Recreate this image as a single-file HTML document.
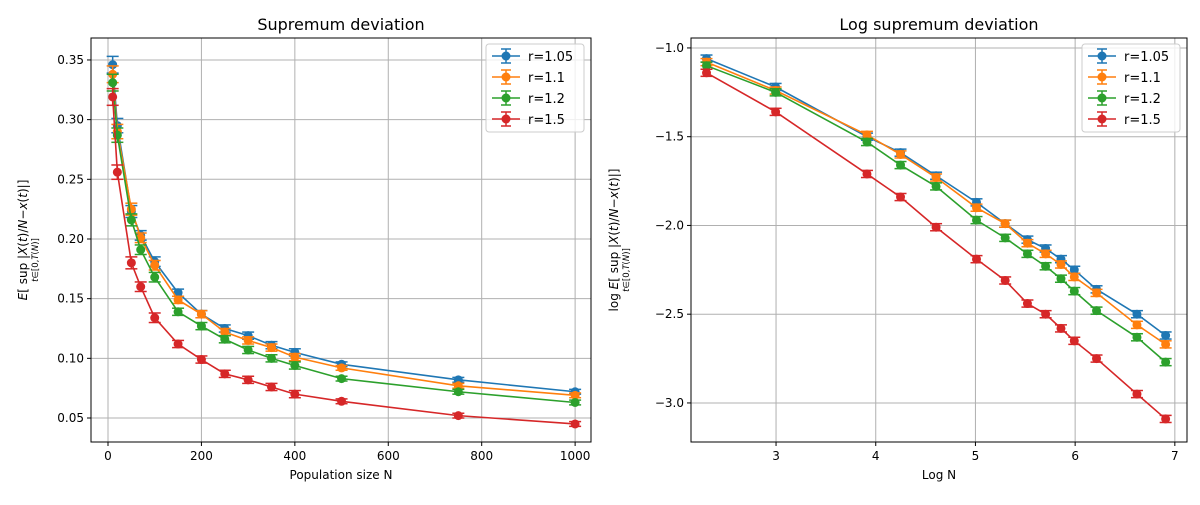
<!DOCTYPE html>
<html><head><meta charset="utf-8"><style>
body{margin:0;background:#fff;font-family:"Liberation Sans","DejaVu Sans",sans-serif;}
svg text{font-family:"DejaVu Sans","Liberation Sans",sans-serif;}
</style></head><body>
<svg id="fig" width="1200" height="500" viewBox="0 0 1200 500" xmlns="http://www.w3.org/2000/svg"></svg>
<script>
const popN = [10,20,50,70,100,150,200,250,300,350,400,500,750,1000];
const seriesLabels = ["r=1.05","r=1.1","r=1.2","r=1.5"];
const colors = ["#1f77b4","#ff7f0e","#2ca02c","#d62728"];
const supR105 = [.346,.295,.223,.203,.181,.155,.137,.125,.119,.111,.105,.095,.082,.072];
const supR11  = [.338,.290,.225,.201,.178,.149,.137,.122,.115,.109,.101,.092,.077,.069];
const supR12  = [.331,.287,.216,.191,.168,.139,.127,.116,.107,.100,.094,.083,.072,.063];
const supR15  = [.319,.256,.180,.160,.134,.112,.099,.087,.082,.076,.070,.064,.052,.045];
const supErr  = [.007,.006,.005,.004,.004,.003,.003,.003,.003,.003,.003,.002,.002,.002];
const logR105 = [-1.06,-1.22,-1.50,-1.59,-1.72,-1.87,-1.99,-2.08,-2.13,-2.19,-2.25,-2.36,-2.50,-2.62];
const logR11  = [-1.08,-1.24,-1.49,-1.60,-1.73,-1.90,-1.99,-2.10,-2.16,-2.22,-2.29,-2.38,-2.56,-2.67];
const logR12  = [-1.10,-1.25,-1.53,-1.66,-1.78,-1.97,-2.07,-2.16,-2.23,-2.30,-2.37,-2.48,-2.63,-2.77];
const logR15  = [-1.14,-1.36,-1.71,-1.84,-2.01,-2.19,-2.31,-2.44,-2.50,-2.58,-2.65,-2.75,-2.95,-3.09];
const logErr  = [.02,.02,.02,.02,.02,.02,.02,.02,.02,.02,.02,.02,.02,.02];
const leftXTicks = [0,200,400,600,800,1000];
const leftYTicks = [0.05,0.10,0.15,0.20,0.25,0.30,0.35];
const rightXTicks = [3,4,5,6,7];
const rightYTicks = [-1.0,-1.5,-2.0,-2.5,-3.0];

const NS="http://www.w3.org/2000/svg";
const svg=document.getElementById('fig');
function mk(tag,attrs,parent){const e=document.createElementNS(NS,tag);for(const k in attrs)e.setAttribute(k,attrs[k]);(parent||svg).appendChild(e);return e;}

function panel(cfg){
  const g=mk('g',{});
  
  
  const L=cfg.box[0],T=cfg.box[1],R=cfg.box[2],B=cfg.box[3];
  const sx=v=>L+(v-cfg.xd[0])/(cfg.xd[1]-cfg.xd[0])*(R-L);
  const sy=v=>B-(v-cfg.yd[0])/(cfg.yd[1]-cfg.yd[0])*(B-T);
  cfg.xt.forEach(t=>{const x=sx(t);
    const gl=mk('line',{x1:x,x2:x,y1:T,y2:B,stroke:'#b0b0b0','stroke-width':1},g);
    
    
    mk('line',{x1:x,x2:x,y1:B,y2:B+4,stroke:'#000'},g);
    const tx=mk('text',{x:x,y:B+18,'text-anchor':'middle','font-size':12},g);tx.textContent=cfg.xf(t);
    
    });
  cfg.yt.forEach(t=>{const y=sy(t);
    const gl=mk('line',{x1:L,x2:R,y1:y,y2:y,stroke:'#b0b0b0','stroke-width':1},g);
    
    
    mk('line',{x1:L-4,x2:L,y1:y,y2:y,stroke:'#000'},g);
    const tx=mk('text',{x:L-7,y:y+4,'text-anchor':'end','font-size':12},g);tx.textContent=cfg.yf(t);
    
    });
  cfg.series.forEach((ys,si)=>{
    const c=colors[si];
    const sg=mk('g',{},g);
    
    
    const pts=ys.map((v,i)=>sx(cfg.xs[i])+','+sy(v)).join(' ');
    mk('polyline',{points:pts,fill:'none',stroke:c,'stroke-width':1.6},sg);
    ys.forEach((v,i)=>{const x=sx(cfg.xs[i]);const e=cfg.err[i];
      const y1=sy(v+e),y2=sy(v-e);
      mk('line',{x1:x,x2:x,y1:y1,y2:y2,stroke:c,'stroke-width':1.5},sg);
      mk('line',{x1:x-6,x2:x+6,y1:y1,y2:y1,stroke:c,'stroke-width':1.5},sg);
      mk('line',{x1:x-6,x2:x+6,y1:y2,y2:y2,stroke:c,'stroke-width':1.5},sg);
      const p=mk('circle',{cx:x,cy:sy(v),r:4.5,fill:c},sg);
      
      });
  });
  mk('rect',{x:L,y:T,width:R-L,height:B-T,fill:'none',stroke:'#000','stroke-width':1},g);
  const ti=mk('text',{x:(L+R)/2,y:T-8,'text-anchor':'middle','font-size':16},g);ti.textContent=cfg.title;
  
  
  const xl=mk('text',{x:(L+R)/2,y:B+37,'text-anchor':'middle','font-size':12},g);xl.textContent=cfg.xlabel;
  
  
  const lx=R-cfg.legW-7, ly=T+6;
  const lg=mk('g',{},g);
  
  
  mk('rect',{x:lx,y:ly,width:cfg.legW,height:88,rx:3,fill:'#fff','fill-opacity':0.8,stroke:'#ccc'},lg);
  seriesLabels.forEach((s,i)=>{const yy=ly+12+i*21;const c=colors[i];
    const le=mk('g',{},lg);
    
    
    mk('line',{x1:lx+6,x2:lx+34,y1:yy,y2:yy,stroke:c,'stroke-width':1.6},le);
    mk('line',{x1:lx+20,x2:lx+20,y1:yy-7,y2:yy+7,stroke:c,'stroke-width':1.5},le);
    mk('line',{x1:lx+15,x2:lx+25,y1:yy-7,y2:yy-7,stroke:c,'stroke-width':1.5},le);
    mk('line',{x1:lx+15,x2:lx+25,y1:yy+7,y2:yy+7,stroke:c,'stroke-width':1.5},le);
    mk('circle',{cx:lx+20,cy:yy,r:4.5,fill:c},le);
    const t=mk('text',{x:lx+42,y:yy+5,'font-size':13},le);t.textContent=s;});
  const yl=mk('text',{transform:`translate(${cfg.ylx},${(T+B)/2}) rotate(-90)`,'text-anchor':'middle','font-size':12},g);
  
  
  yl.innerHTML=cfg.ylpre+'<tspan font-style="italic">E</tspan>[  sup  |<tspan font-style="italic">X</tspan>(<tspan font-style="italic">t</tspan>)/<tspan font-style="italic">N</tspan>−<tspan font-style="italic">x</tspan>(<tspan font-style="italic">t</tspan>)|]';
  const sub=mk('text',{transform:`translate(${cfg.ylx+11},${(T+B)/2+cfg.subOff}) rotate(-90)`,'text-anchor':'middle','font-size':8.5},g);
  sub.innerHTML='<tspan font-style="italic">t</tspan>∈[0,<tspan font-style="italic">T</tspan>(<tspan font-style="italic">N</tspan>)]';
}
panel({name:'supremum-panel',box:[91,38,591,442],xd:[-36.4,1034],yd:[0.0299,0.3684],xs:popN,
  series:[supR105,supR11,supR12,supR15],err:supErr,xt:leftXTicks,yt:leftYTicks,
  xf:t=>String(t),yf:t=>t.toFixed(2),title:'Supremum deviation',xlabel:'Population size N',legW:98,ylx:27,ylpre:'',subOff:20});
panel({name:'log-supremum-panel',box:[691,38,1187,442],xd:[2.147,7.122],yd:[-3.220,-0.944],xs:popN.map(n=>Math.log(n)),
  series:[logR105,logR11,logR12,logR15],err:logErr,xt:rightXTicks,yt:rightYTicks,
  xf:t=>String(t),yf:t=>t.toFixed(1).replace('-','−'),title:'Log supremum deviation',xlabel:'Log N',legW:98,ylx:618,ylpre:'log ',subOff:30});
</script>
</body></html>
